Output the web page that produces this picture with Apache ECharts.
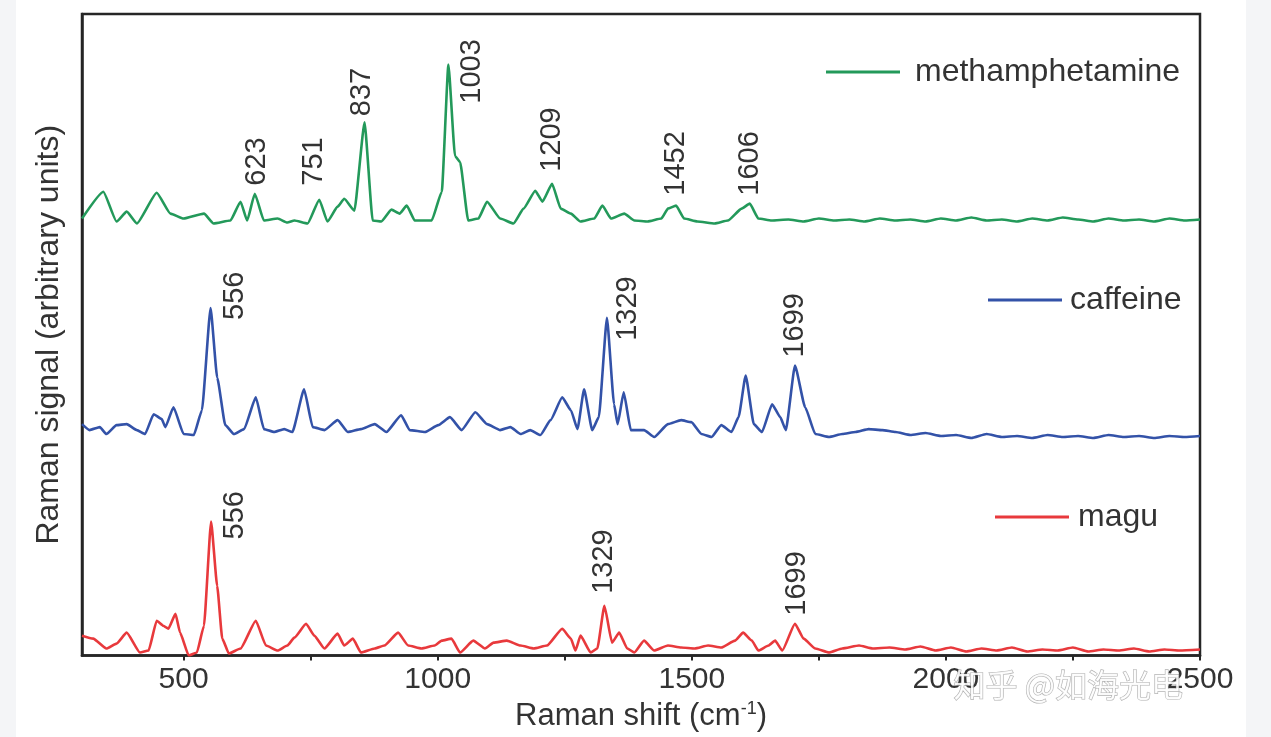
<!DOCTYPE html>
<html>
<head>
<meta charset="utf-8">
<script src="https://cdn.jsdelivr.net/npm/echarts@6/dist/echarts.min.js"></script>
<style>
html,body{margin:0;padding:0;background:#fff;}
#chart{width:1271px;height:737px;}
</style>
</head>
<body>
<div id="chart"></div>
<script>
// ---- data (x: Raman shift cm^-1, y: signal, arbitrary units) ----
const seriesNames = ['methamphetamine', 'caffeine', 'magu'];
const xTickLabels = [500, 1000, 1500, 2000, 2500];
const xTickMarks = [500, 750, 1000, 1250, 1500, 1750, 2000, 2250, 2500];

const methData = [[300,440],[342,467],[368,437],[388,447],[408,435],[447,466],[474,445],[500,440],[540,445],[559,435],[592,438],[612,457],[625,438],[640,465],[658,438],[685,440],[704,436],[718,438],[744,435],[767,459],[783,437],[803,452],[816,460],[836,448],[856,537],[872,438],[889,437],[909,449],[925,445],[939,453],[955,438],[988,438],[1008,467],[1021,595],[1034,503],[1044,497],[1060,438],[1080,440],[1097,457],[1123,440],[1149,435],[1169,450],[1192,468],[1206,457],[1225,475],[1242,450],[1262,445],[1281,437],[1308,440],[1324,453],[1341,440],[1367,445],[1387,438],[1413,437],[1440,440],[1453,450],[1469,453],[1485,440],[1511,437],[1545,435],[1571,438],[1598,450],[1614,455],[1631,440],[1657,438],[1690,439],[1720,437],[1750,440],[1780,438],[1810,439],[1840,437],[1870,440],[1900,438],[1930,439],[1960,437],[1990,440],[2020,438],[2050,441],[2080,438],[2110,439],[2140,437],[2170,440],[2200,438],[2230,441],[2260,439],[2290,437],[2320,440],[2350,438],[2380,439],[2410,437],[2440,440],[2470,438],[2500,439]];

const caffeineData = [[300,233],[315,227],[335,230],[348,223],[368,232],[388,233],[408,227],[424,223],[441,243],[457,238],[464,230],[480,250],[500,223],[520,222],[536,247],[553,350],[566,280],[582,232],[599,223],[619,228],[642,260],[658,228],[678,225],[698,228],[714,225],[737,268],[754,230],[777,227],[803,237],[823,225],[849,228],[876,233],[899,225],[928,242],[945,227],[975,225],[1001,232],[1024,240],[1047,227],[1074,245],[1097,233],[1123,227],[1143,230],[1163,223],[1182,227],[1202,222],[1222,237],[1245,260],[1262,247],[1275,228],[1288,268],[1304,227],[1317,240],[1333,340],[1347,253],[1354,233],[1366,265],[1380,227],[1406,227],[1426,220],[1453,233],[1479,237],[1499,235],[1519,223],[1539,220],[1558,232],[1578,225],[1592,240],[1606,282],[1622,233],[1638,225],[1658,253],[1674,240],[1685,227],[1703,292],[1723,250],[1743,223],[1770,220],[1796,223],[1822,225],[1848,228],[1875,227],[1901,225],[1930,222],[1960,224],[1990,221],[2020,222],[2050,219],[2080,223],[2110,220],[2140,221],[2170,219],[2200,222],[2230,220],[2260,221],[2290,219],[2320,222],[2350,220],[2380,221],[2410,219],[2440,221],[2470,220],[2500,221]];

const maguData = [[300,20],[322,17],[348,7],[368,12],[388,23],[414,3],[431,5],[447,35],[460,30],[470,27],[484,42],[493,23],[510,0],[526,3],[540,30],[554,135],[566,70],[576,17],[589,2],[612,7],[642,35],[662,10],[685,5],[704,10],[718,18],[741,32],[757,20],[777,7],[803,22],[816,10],[833,17],[849,3],[876,7],[895,10],[922,23],[942,10],[968,7],[994,10],[1008,15],[1027,17],[1044,3],[1070,15],[1093,7],[1110,13],[1136,15],[1163,10],[1189,7],[1215,10],[1245,27],[1262,17],[1271,5],[1281,20],[1301,3],[1314,7],[1328,50],[1343,13],[1357,23],[1373,7],[1387,3],[1406,15],[1426,5],[1453,10],[1479,8],[1506,7],[1532,10],[1558,8],[1585,15],[1601,23],[1618,15],[1631,5],[1651,10],[1664,15],[1678,5],[1703,32],[1720,17],[1743,7],[1770,3],[1796,7],[1829,10],[1856,7],[1889,8],[1920,6],[1950,9],[1980,5],[2010,8],[2040,4],[2070,7],[2100,5],[2130,8],[2160,4],[2190,6],[2220,5],[2250,8],[2280,4],[2310,6],[2340,5],[2370,7],[2400,4],[2430,6],[2460,5],[2500,6]];

// peak annotations: label text and the wavenumber of the plotted peak it marks
const methPeakLabels = ['623','751','837','1003','1209','1452','1606'];
const methPeakAt = [640, 767, 856, 1021, 1225, 1469, 1614];
const caffeinePeakLabels = ['556','1329','1699'];
const caffeinePeakAt = [553, 1333, 1703];
const maguPeakLabels = ['556','1329','1699'];
const maguPeakAt = [554, 1328, 1703];

// ---- styling ----
const FONT = '"Liberation Sans", Arial, Helvetica, sans-serif';
const TEXT = '#333';
const FRAME = '#262626';
const colors = ['#23995a', '#3352a8', '#e8393c'];
const labelShift = {
  methamphetamine: [[2,-8],[-5,-14],[-3,-6],[24,39],[0,-12],[0,-10],[0,-8]],
  caffeine: [[24,12],[21,23],[0,-8]],
  magu: [[24,18],[0,-12],[2,-8]]
};

function yAt(data, x) {
  let best = data[0];
  for (const p of data) if (Math.abs(p[0]-x) < Math.abs(best[0]-x)) best = p;
  return best[1];
}
function peakMarks(name, data, labels, at) {
  return labels.map((t, i) => ({
    name: t,
    coord: [at[i], yAt(data, at[i])],
    label: { position: labelShift[name][i] }
  }));
}

const dataSets = [methData, caffeineData, maguData];
const peakSets = [[methPeakLabels, methPeakAt], [caffeinePeakLabels, caffeinePeakAt], [maguPeakLabels, maguPeakAt]];

const series = seriesNames.map((n, i) => ({
  name: n,
  type: 'line',
  data: dataSets[i],
  showSymbol: false,
  symbol: 'none',
  smooth: 0.15,
  smoothMonotone: 'x',
  color: colors[i],
  lineStyle: { width: 2.6, color: colors[i] },
  silent: true,
  markPoint: {
    silent: true,
    symbol: 'circle',
    symbolSize: 0,
    itemStyle: { color: 'transparent' },
    label: {
      show: true,
      formatter: '{b}',
      rotate: 90,
      align: 'left',
      verticalAlign: 'middle',
      fontSize: 29,
      fontFamily: FONT,
      color: TEXT
    },
    data: peakMarks(n, dataSets[i], peakSets[i][0], peakSets[i][1])
  }
}));

const legendPos = [
  { left: 826, top: 56, pad: 10 },
  { left: 988, top: 284, pad: 3 },
  { left: 995, top: 501, pad: 4 }
];
const legends = seriesNames.map((n, i) => ({
  data: [n],
  left: legendPos[i].left,
  top: legendPos[i].top,
  padding: 0,
  icon: 'rect',
  itemWidth: 74,
  itemHeight: 3,
  selectedMode: false,
  textStyle: { fontSize: 32, fontFamily: FONT, color: TEXT, padding: [0,0,0,legendPos[i].pad] }
}));

const chart = echarts.init(document.getElementById('chart'), null, { renderer: 'canvas' });
chart.setOption({
  animation: false,
  backgroundColor: '#ffffff',
  grid: { left: 82, right: 71, top: 14, bottom: 77, show: true, borderColor: FRAME, borderWidth: 2.5, backgroundColor: 'transparent' },
  legend: legends,
  xAxis: {
    type: 'value',
    min: 300,
    max: 2500,
    name: 'Raman shift (cm{sup|-1})',
    nameLocation: 'middle',
    nameGap: 45,
    nameTextStyle: {
      fontSize: 31, fontFamily: FONT, color: TEXT,
      rich: { sup: { fontSize: 18, fontFamily: FONT, color: TEXT, verticalAlign: 'top', padding: [0,0,14,0] } }
    },
    axisLine: { show: true, onZero: false, lineStyle: { color: FRAME, width: 2.5 } },
    axisTick: { show: true, customValues: xTickMarks, length: 5, lineStyle: { color: FRAME, width: 2 } },
    axisLabel: { customValues: xTickLabels, formatter: v => String(v), fontSize: 30, fontFamily: FONT, color: TEXT, margin: 9 },
    splitLine: { show: false }
  },
  yAxis: {
    type: 'value',
    min: 0,
    max: 646,
    name: 'Raman signal (arbitrary units)',
    nameLocation: 'middle',
    nameRotate: 90,
    nameGap: 17,
    nameTextStyle: { fontSize: 32, fontFamily: FONT, color: TEXT },
    axisLine: { show: true, lineStyle: { color: FRAME, width: 2.5 } },
    axisTick: { show: false },
    axisLabel: { show: false },
    splitLine: { show: false }
  },
  series: series,
  graphic: [
    { type: 'rect', left: 0, top: 0, shape: { width: 16, height: 737 }, style: { fill: '#f4f5f7' }, z: -10, silent: true },
    { type: 'rect', right: 0, top: 0, shape: { width: 25, height: 737 }, style: { fill: '#f4f5f7' }, z: -10, silent: true },
    { type: 'text', left: 953, top: 668, z: 100, silent: true,
      style: { text: '知乎 @如海光电', font: '32px "Noto Sans CJK SC", sans-serif', fill: 'rgba(255,255,255,0.88)', stroke: 'rgba(110,110,110,0.55)', lineWidth: 1.2 } }
  ]
});
</script>
</body>
</html>
